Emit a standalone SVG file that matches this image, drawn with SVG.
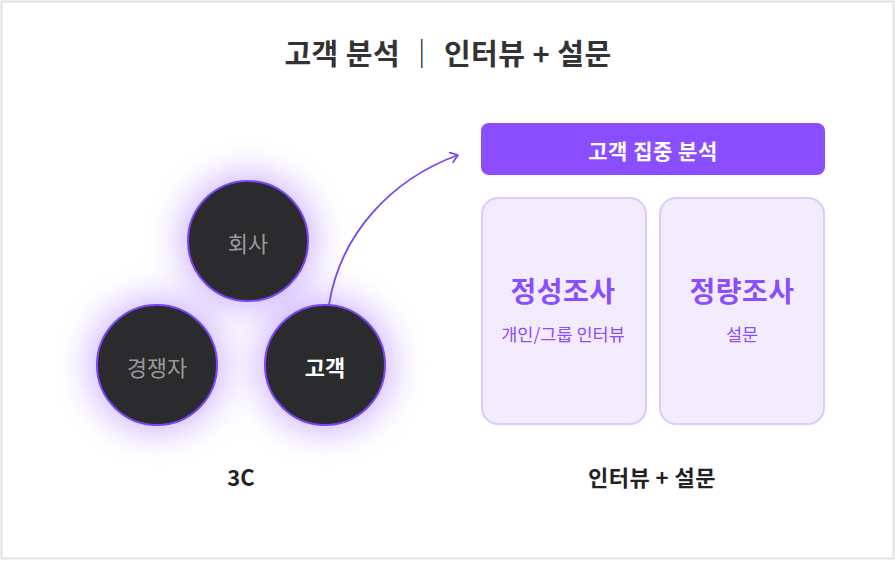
<svg xmlns="http://www.w3.org/2000/svg" width="895" height="561" viewBox="0 0 895 561">
<style>
text{font-family:"Noto Sans CJK KR","Noto Sans",sans-serif;text-anchor:middle;dominant-baseline:central}
.circ{fill:#2b2a2d;stroke:#7a45f5;stroke-width:2}
.card{fill:#f3ecfe;stroke:#dccbfb;stroke-width:2}
.big{font-size:28px;font-weight:700;fill:#8a4dff;letter-spacing:0.5px}
.sub{font-size:17.5px;fill:#8a4dff}
.lbl{font-size:22px;font-weight:700;fill:#222}
</style>
<defs>
<filter id="glow" x="-100%" y="-100%" width="300%" height="300%">
<feGaussianBlur stdDeviation="18"/>
</filter>
<marker id="ah" markerWidth="12" markerHeight="12" refX="9" refY="6" orient="auto" markerUnits="userSpaceOnUse">
<path d="M2,1 L9,6 L2,11" fill="none" stroke="#7a45f5" stroke-width="1.8" stroke-linecap="round" stroke-linejoin="round"/>
</marker>
</defs>
<rect x="1.5" y="1.5" width="892" height="557" fill="#fff" stroke="#e2e2e2" stroke-width="2"/>
<text x="448" y="52" font-size="29" font-weight="700" fill="#333" letter-spacing="0.5">고객 분석 ｜ 인터뷰 + 설문</text>
<g id="glows" fill="#a67bff" opacity="0.6" filter="url(#glow)">
<circle cx="248" cy="241" r="66"/>
<circle cx="157" cy="365" r="66"/>
<circle cx="325" cy="365" r="66"/>
</g>
<g id="connectors">
<path d="M329,305 C340,235 390,180 458,155" fill="none" stroke="#7a45f5" stroke-width="1.8" marker-end="url(#ah)"/>
</g>
<g id="n-company"><circle class="circ" cx="248" cy="241" r="60"/><text x="248" y="242" font-size="22" fill="#9a9a9a">회사</text></g>
<g id="n-competitor"><circle class="circ" cx="157" cy="365" r="60"/><text x="157" y="366" font-size="22" fill="#9a9a9a">경쟁자</text></g>
<g id="n-customer"><circle class="circ" cx="325" cy="365" r="60"/><text x="325" y="366" font-size="22" font-weight="700" fill="#fff">고객</text></g>
<g id="n-focus"><rect x="481" y="123" width="344" height="52" rx="8" fill="#8a4dff"/><text x="653" y="150" font-size="21" font-weight="700" fill="#fff" letter-spacing="0.5">고객 집중 분석</text></g>
<g id="n-qual"><rect class="card" x="482" y="198" width="164" height="226" rx="16"/><text class="big" x="563" y="290">정성조사</text><text class="sub" x="563" y="333">개인/그룹 인터뷰</text></g>
<g id="n-quant"><rect class="card" x="660" y="198" width="164" height="226" rx="16"/><text class="big" x="742" y="290">정량조사</text><text class="sub" x="742" y="333">설문</text></g>
<g id="l-3c"><text class="lbl" x="241" y="476">3C</text></g>
<g id="l-right"><text class="lbl" x="652" y="476" letter-spacing="0.5">인터뷰 + 설문</text></g>
</svg>
